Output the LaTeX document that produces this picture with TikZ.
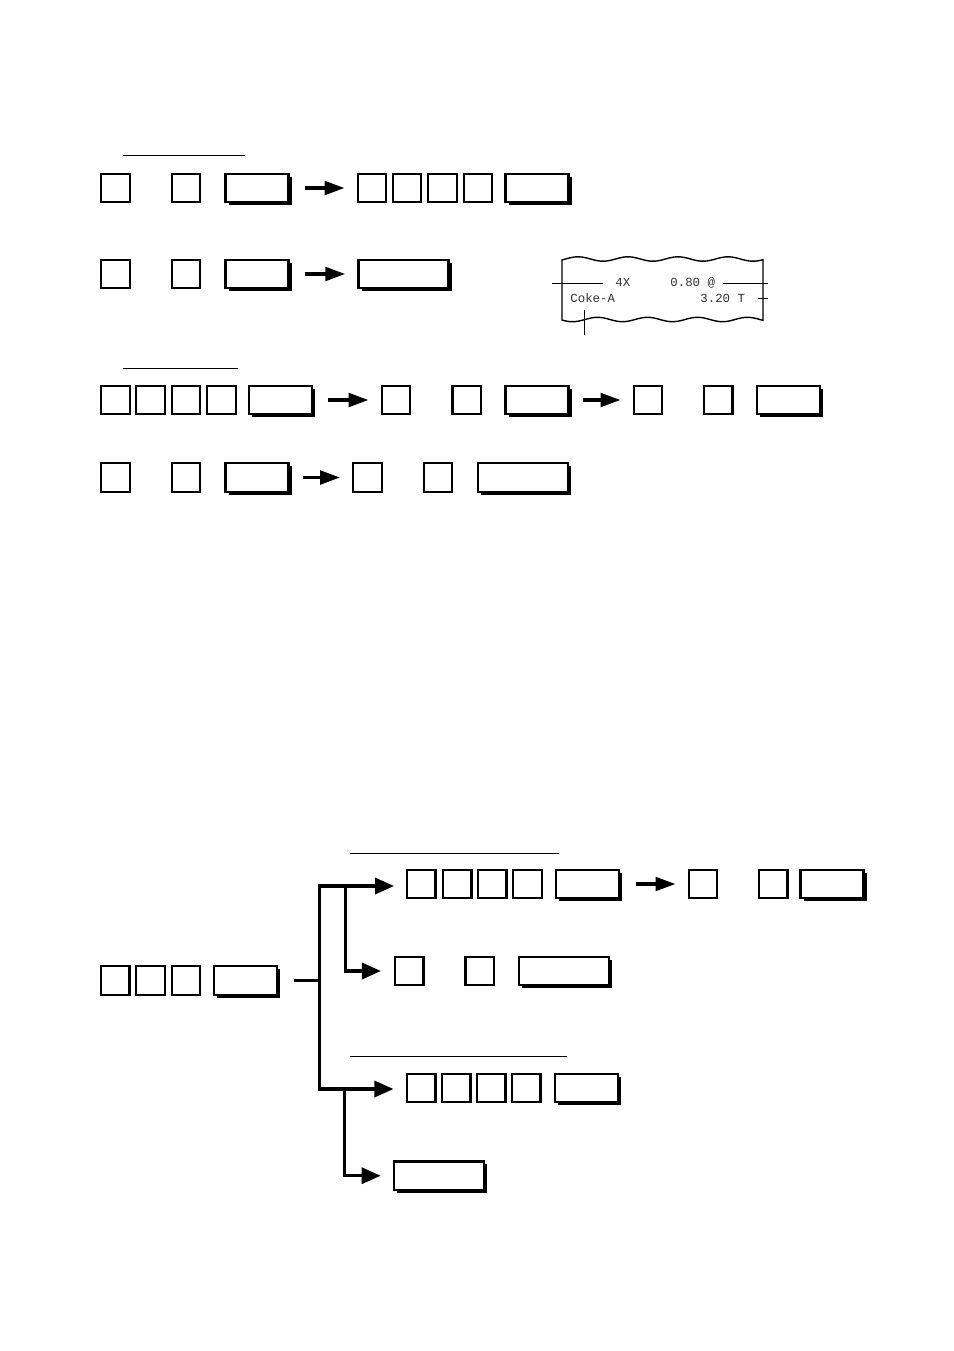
\documentclass[tikz,border=0pt]{standalone}
\usepackage{fontspec}
\newfontfamily\rcpt{Liberation Mono}
\usetikzlibrary{arrows.meta,shadows}
\begin{document}
\begin{tikzpicture}[x=0.5pt,y=-0.5pt,
  sk/.style={draw,line width=1.1pt,fill=white,minimum width=14.25pt,minimum height=14.25pt,inner sep=0pt,outer sep=0pt},
  wk/.style={sk,minimum width=31.5pt,drop shadow={shadow xshift=1.5pt,shadow yshift=-1.5pt,opacity=1,fill=black}},
  xk/.style={wk,minimum width=45pt},
  flow/.style={line width=1.7pt,-{Triangle[length=10pt,width=6.8pt]},shorten <=8pt,shorten >=6.6pt},
  tree/.style={line width=1.65pt},
  uline/.style={line width=0.65pt},
  rc/.style={line width=0.5pt},
  rt/.style={font=\rcpt\fontsize{6.2pt}{7pt}\selectfont,text=black!80,inner sep=0pt,anchor=base west}
]
\useasboundingbox (0,0) rectangle (954,1351);

% ---------- underline 1 ----------
\coordinate (u1a) at (123,155.7); \coordinate (u1b) at (245,155.7);
\draw[uline] (u1a) -- (u1b);

% ---------- row 1 ----------
\node[sk] (r1a) at (115.5,188) {};
\node[sk] (r1b) at (186,188) {};
\node[wk] (r1c) at (257,188) {};
\node[sk] (r1d) at (372,188) {};
\node[sk] (r1e) at (407,188) {};
\node[sk] (r1f) at (442.5,188) {};
\node[sk] (r1g) at (478,188) {};
\node[wk] (r1h) at (537,188) {};
\draw[flow] (r1c.east) -- (r1d.west);

% ---------- row 2 ----------
\node[sk] (r2a) at (115.5,274) {};
\node[sk] (r2b) at (186,274) {};
\node[wk] (r2c) at (257,274) {};
\node[xk] (r2d) at (403.5,274) {};
\draw[flow] (r2c.east) -- (r2d.west);

% ---------- receipt ----------
\draw[line width=0.7pt] plot[domain=562:763,samples=90] (\x,{259-2.2*sin(7.2*(\x-565.5))})
  -- plot[domain=763:562,samples=90] (\x,{319.5-2.2*sin(7.2*(\x-585))}) -- cycle;
\node[rt] (t1) at (615,286.3) {4X};
\node[rt] (t2) at (670,286.3) {0.80 @};
\node[rt] (t3) at (570,302) {Coke-A};
\node[rt] (t4) at (700,302) {3.20 T};
\coordinate (p1) at (552,283.7); \coordinate (p2) at (603,283.7);
\coordinate (p3) at (723,283.7); \coordinate (p4) at (768,283.7);
\coordinate (p5) at (758,298.7); \coordinate (p6) at (768,298.7);
\coordinate (p7) at (584.3,310.3); \coordinate (p8) at (584.3,335);
\draw[rc] (p1) -- (p2);
\draw[rc] (p3) -- (p4);
\draw[rc] (p5) -- (p6);
\draw[rc] (p7) -- (p8);

% ---------- underline 2 ----------
\coordinate (u2a) at (123,368.3); \coordinate (u2b) at (237.7,368.3);
\draw[uline] (u2a) -- (u2b);

% ---------- row 3 ----------
\node[sk] (r3a) at (115.5,400) {};
\node[sk] (r3b) at (150.5,400) {};
\node[sk] (r3c) at (186,400) {};
\node[sk] (r3d) at (221.5,400) {};
\node[wk] (r3e) at (280.5,400) {};
\node[sk] (r3f) at (396,400) {};
\node[sk] (r3g) at (466.7,400) {};
\node[wk] (r3h) at (537,400) {};
\node[sk] (r3i) at (648,400) {};
\node[sk] (r3j) at (718.3,400) {};
\node[wk] (r3k) at (788.3,400) {};
\draw[flow] (r3e.east) -- (r3f.west);
\draw[flow,shorten <=7pt] (r3h.east) -- (r3i.west);

% ---------- row 4 ----------
\node[sk] (r4a) at (115.5,477.5) {};
\node[sk] (r4b) at (186,477.5) {};
\node[wk] (r4c) at (257,477.5) {};
\node[sk] (r4d) at (367.5,477.5) {};
\node[sk] (r4e) at (438,477.5) {};
\node[xk] (r4f) at (522.6,477.5) {};
\draw[flow,shorten <=7pt] (r4c.east) -- (r4d.west);

% ---------- bottom section ----------
\coordinate (u3a) at (350,853.3); \coordinate (u3b) at (559,853.3);
\draw[uline] (u3a) -- (u3b);
\coordinate (u4a) at (350,1056.7); \coordinate (u4b) at (566.7,1056.7);
\draw[uline] (u4a) -- (u4b);

\node[sk] (b1a) at (421.3,884) {};
\node[sk] (b1b) at (457.2,884) {};
\node[sk] (b1c) at (492.2,884) {};
\node[sk] (b1d) at (527.5,884) {};
\node[wk] (b1e) at (587.2,884) {};
\node[sk] (b1f) at (703,884) {};
\node[sk] (b1g) at (773.3,884) {};
\node[wk] (b1h) at (832,884) {};
\draw[flow,shorten <=8.5pt] (b1e.east) -- (b1f.west);

\node[sk] (b2a) at (409.2,971) {};
\node[sk] (b2b) at (479.7,971) {};
\node[xk] (b2c) at (564,971) {};

\node[sk] (la) at (115.3,980.4) {};
\node[sk] (lb) at (150.5,980.4) {};
\node[sk] (lc) at (186,980.4) {};
\node[wk] (ld) at (245.6,980.4) {};

\node[sk] (b3a) at (421.3,1088) {};
\node[sk] (b3b) at (456.3,1088) {};
\node[sk] (b3c) at (491.3,1088) {};
\node[sk] (b3d) at (526.3,1088) {};
\node[wk] (b3e) at (586.2,1088) {};

\node[xk] (b4) at (439.2,1175.7) {};

\coordinate (jt) at (319.3,886);
\coordinate (jb) at (319.3,1089);
\coordinate (jm) at (319.3,980.4);
\coordinate (s1) at (345.5,886);
\coordinate (s2) at (344.5,1089);

\draw[tree,{Triangle[length=9.5pt,width=8pt]}-{Triangle[length=9.5pt,width=8pt]},shorten <=6.5pt,shorten >=6.8pt]
  (jt -| b1a.west) -- (jt) -- (jb) -- (jb -| b3a.west);
\draw[tree,-{Triangle[length=9.5pt,width=8pt]},shorten >=7pt] (s1) |- (b2a.west);
\draw[tree,-{Triangle[length=9.5pt,width=8pt]},shorten >=6.75pt] (s2) |- (b4.west);
\draw[tree,shorten <=8.5pt] (ld.east) -- (jm);

\end{tikzpicture}
\end{document}
